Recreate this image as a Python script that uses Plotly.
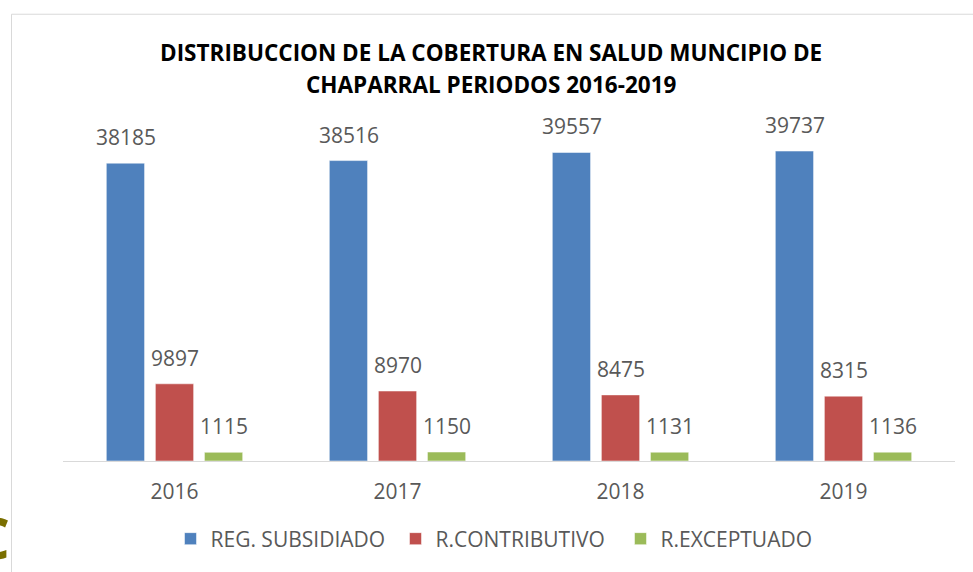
import plotly.graph_objects as go

years = ["2016", "2017", "2018", "2019"]
subsidiado = [38185, 38516, 39557, 39737]
contributivo = [9897, 8970, 8475, 8315]
exceptuado = [1115, 1150, 1131, 1136]
series_names = ["REG. SUBSIDIADO", "R.CONTRIBUTIVO", "R.EXCEPTUADO"]
colors = ["#4F81BD", "#C0504D", "#9BBB59"]
title_lines = ["DISTRIBUCCION DE LA COBERTURA EN SALUD MUNCIPIO DE",
               "CHAPARRAL PERIODOS 2016-2019"]

W, H = 973, 572
L, R, T, B = 63, 18, 109.5, 107
ph = H - T - B
FONT = "Open Sans"
GRAY = "#595959"

fig = go.Figure()
all_vals = [subsidiado, contributivo, exceptuado]
for name, vals, c in zip(series_names, all_vals, colors):
    fig.add_trace(go.Bar(x=years, y=vals, name=name,
                         marker=dict(color=c, line=dict(color="rgba(255,255,255,0.5)", width=1))))

annotations = []
offsets = [-49, 0, 49]
for vals, off in zip(all_vals, offsets):
    for i, v in enumerate(vals):
        annotations.append(dict(x=i, y=v, xref="x", yref="y", text=str(v), showarrow=False,
                                xshift=off, yshift=26, yanchor="middle",
                                font=dict(family=FONT, size=21, color=GRAY)))

def py(pix):
    return (H - B - pix) / ph

def px(pix):
    return (pix - L) / (W - L - R)

for line, ypix in zip(title_lines, [51, 84]):
    annotations.append(dict(x=px(491), y=py(ypix), xref="paper", yref="paper", text="<b>" + line + "</b>",
                            showarrow=False, xanchor="center", yanchor="middle",
                            font=dict(family=FONT, size=22.5, color="#000000")))

annotations.append(dict(x=px(12), y=py(541), xref="paper", yref="paper", text="<b>C</b>", showarrow=False,
                        xanchor="right", yanchor="middle",
                        font=dict(family=FONT, size=58, color="#7A6F00")))

fig.update_layout(
    width=W, height=H, autosize=False,
    margin=dict(l=L, r=R, t=T, b=B, pad=0),
    paper_bgcolor="white", plot_bgcolor="white",
    barmode="group", bargap=0.34, bargroupgap=0.22,
    showlegend=True,
    legend=dict(orientation="h", x=px(508), xanchor="center", y=py(544), yanchor="middle",
                font=dict(family=FONT, size=21, color=GRAY), entrywidth=180, traceorder="normal"),
    xaxis=dict(type="category", range=[-0.5, 3.5], showgrid=False, showline=True, linecolor="#D9D9D9",
               linewidth=1, ticks="", tickfont=dict(family=FONT, size=21, color=GRAY),
               ticklabelstandoff=12, fixedrange=True, automargin=False),
    yaxis=dict(range=[0, 45000], visible=False, fixedrange=True, automargin=False),
    annotations=annotations,
    shapes=[dict(type="rect", xref="paper", yref="paper", x0=px(11.5), x1=px(1100), y0=py(700), y1=py(12.5),
                 line=dict(color="#D9D9D9", width=1), fillcolor="rgba(0,0,0,0)", layer="below")],
)

fig.write_html(
    "out.html", config={"displayModeBar": False},
    post_script=("document.body.style.margin='0px';document.body.style.height='572px';"
                 "document.body.style.overflow='hidden';document.documentElement.style.overflow='hidden';"),
)
